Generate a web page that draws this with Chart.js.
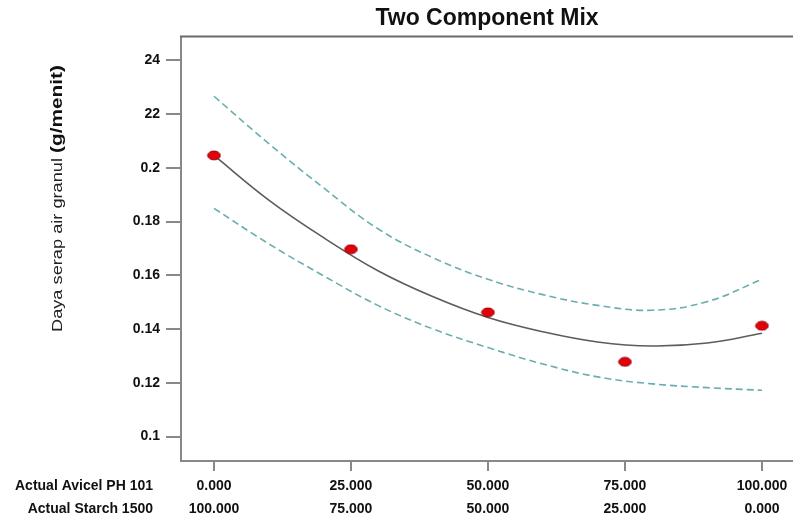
<!DOCTYPE html>
<html>
<head>
<meta charset="utf-8">
<script src="https://cdn.jsdelivr.net/npm/chart.js@4.4.1/dist/chart.umd.min.js"></script>
<style>
html, body { margin: 0; padding: 0; background: #fff; }
#wrap { width: 793px; height: 519px; position: relative; }
</style>
</head>
<body>
<div id="wrap"><canvas id="mix"></canvas></div>
<script>
// design points (Avicel PH 101 / Starch 1500) and measured response
const avicel = [0, 25, 50, 75, 100];
const starch = [100, 75, 50, 25, 0];
const response = [0.2046, 0.1697, 0.1462, 0.1278, 0.1412];

// fitted curve and 95% band
const fitX = [0, 10, 20, 30, 40, 50, 60, 70, 80, 90, 100];
const fitY = [0.2046, 0.1880, 0.1740, 0.1616, 0.1520, 0.1443, 0.1390, 0.1352, 0.1337, 0.1348, 0.1384];
const upperY = [0.2266, 0.2090, 0.1925, 0.1772, 0.1665, 0.1585, 0.1528, 0.1488, 0.1470, 0.1502, 0.1585];
const lowerY = [0.1849, 0.1717, 0.1598, 0.1487, 0.1400, 0.1331, 0.1270, 0.1222, 0.1196, 0.1182, 0.1172];

const yTicks = [0.1, 0.12, 0.14, 0.16, 0.18, 0.2, 0.22, 0.24];
const yTickLabels = ["0.1", "0.12", "0.14", "0.16", "0.18", "0.2", "22", "24"];
const avicelLabels = ["0.000", "25.000", "50.000", "75.000", "100.000"];
const starchLabels = ["100.000", "75.000", "50.000", "25.000", "0.000"];

const axisFont = "'Liberation Sans', Arial, sans-serif";

// red ellipse marker
function makeDot() {
    let c = document.createElement('canvas');
    c.width = 15; c.height = 11;
    let g = c.getContext('2d');
    g.beginPath();
    g.ellipse(7.5, 5.5, 6.3, 4.4, 0, 0, Math.PI * 2);
    g.fillStyle = '#e5000a';
    g.fill();
    g.lineWidth = 1;
    g.strokeStyle = '#8a0000';
    g.stroke();
    return c;
}

function pairs(xs, ys) {
    return xs.map((x, i) => ({x: x, y: ys[i]}));
}

// frame top edge, rotated y title, row captions under the x axis
const extras = {
    id: 'extras',
    afterDraw(chart) {
        const ctx = chart.ctx;
        const area = chart.chartArea;
        ctx.save();
        ctx.strokeStyle = '#6a6a6a';
        ctx.lineWidth = 2;
        ctx.beginPath();
        ctx.moveTo(area.left - 1, area.top);
        ctx.lineTo(chart.width, area.top);
        ctx.stroke();

        ctx.font = "bold 14px " + axisFont;
        ctx.fillStyle = '#111';
        ctx.textAlign = 'right';
        ctx.textBaseline = 'middle';
        ctx.fillText('Actual Avicel PH 101', 153, 486);
        ctx.fillText('Actual Starch 1500', 153, 509);

        ctx.translate(58, 332);
        ctx.rotate(-Math.PI / 2);
        ctx.scale(1.3, 1);
        ctx.textAlign = 'left';
        ctx.fillStyle = '#222';
        ctx.font = "14px " + axisFont;
        const part1 = "Daya serap air granul ";
        ctx.fillText(part1, 0, 0);
        const w = ctx.measureText(part1).width;
        ctx.fillStyle = '#111';
        ctx.font = "bold 16px " + axisFont;
        ctx.fillText("(g/menit)", w, 0);
        ctx.restore();
    }
};

const ctx = document.getElementById('mix').getContext('2d');
const mixChart = new Chart(ctx, {
    type: 'line',
    data: {
        datasets: [
            {
                label: 'Actual',
                data: pairs(avicel, response),
                showLine: false,
                pointStyle: makeDot(),
                pointRadius: 6,
                order: 0
            },
            {
                label: 'Fit',
                data: pairs(fitX, fitY),
                borderColor: '#5c5c5c',
                borderWidth: 1.6,
                pointRadius: 0,
                tension: 0.4,
                order: 1
            },
            {
                label: 'Upper',
                data: pairs(fitX, upperY),
                borderColor: '#6aaeae',
                borderWidth: 1.6,
                borderDash: [7, 4],
                pointRadius: 0,
                tension: 0.4,
                order: 2
            },
            {
                label: 'Lower',
                data: pairs(fitX, lowerY),
                borderColor: '#6aaeae',
                borderWidth: 1.6,
                borderDash: [7, 4],
                pointRadius: 0,
                tension: 0.4,
                order: 2
            }
        ]
    },
    options: {
        responsive: true,
        maintainAspectRatio: false,
        animation: false,
        events: [],
        layout: { padding: 0, autoPadding: false },
        plugins: {
            legend: { display: false },
            tooltip: { enabled: false },
            title: {
                display: true,
                text: 'Two Component Mix',
                color: '#111',
                fullSize: false,
                align: 'center',
                font: { family: axisFont, size: 23, weight: 'bold' },
                padding: { top: 5, bottom: 4 }
            }
        },
        scales: {
            x: {
                type: 'linear',
                min: -6.02,
                max: 105.66,
                afterBuildTicks: (scale) => { scale.ticks = avicel.map(v => ({value: v})); },
                afterFit: (scale) => {
                    scale.height = 58;
                    scale.paddingLeft = 0;
                    scale.paddingRight = 0;
                },
                border: { display: true, color: '#888', width: 2 },
                grid: {
                    drawOnChartArea: false,
                    drawTicks: true,
                    tickLength: 10,
                    color: '#888',
                    lineWidth: 2
                },
                ticks: {
                    autoSkip: false,
                    maxRotation: 0,
                    padding: 4,
                    color: '#111',
                    font: { family: axisFont, size: 14, weight: 'bold', lineHeight: 1.64 },
                    callback: (v, i) => [avicelLabels[i], starchLabels[i]]
                }
            },
            y: {
                min: 0.0909,
                max: 0.2488,
                afterBuildTicks: (scale) => { scale.ticks = yTicks.map(v => ({value: v})); },
                afterFit: (scale) => { scale.width = 181; },
                border: { display: true, color: '#888', width: 2 },
                grid: {
                    drawOnChartArea: false,
                    drawTicks: true,
                    tickLength: 15,
                    color: '#888',
                    lineWidth: 2
                },
                ticks: {
                    padding: 6,
                    color: '#111',
                    font: { family: axisFont, size: 14, weight: 'bold' },
                    callback: (v, i) => yTickLabels[i]
                }
            }
        }
    },
    plugins: [extras]
});
</script>
</body>
</html>
